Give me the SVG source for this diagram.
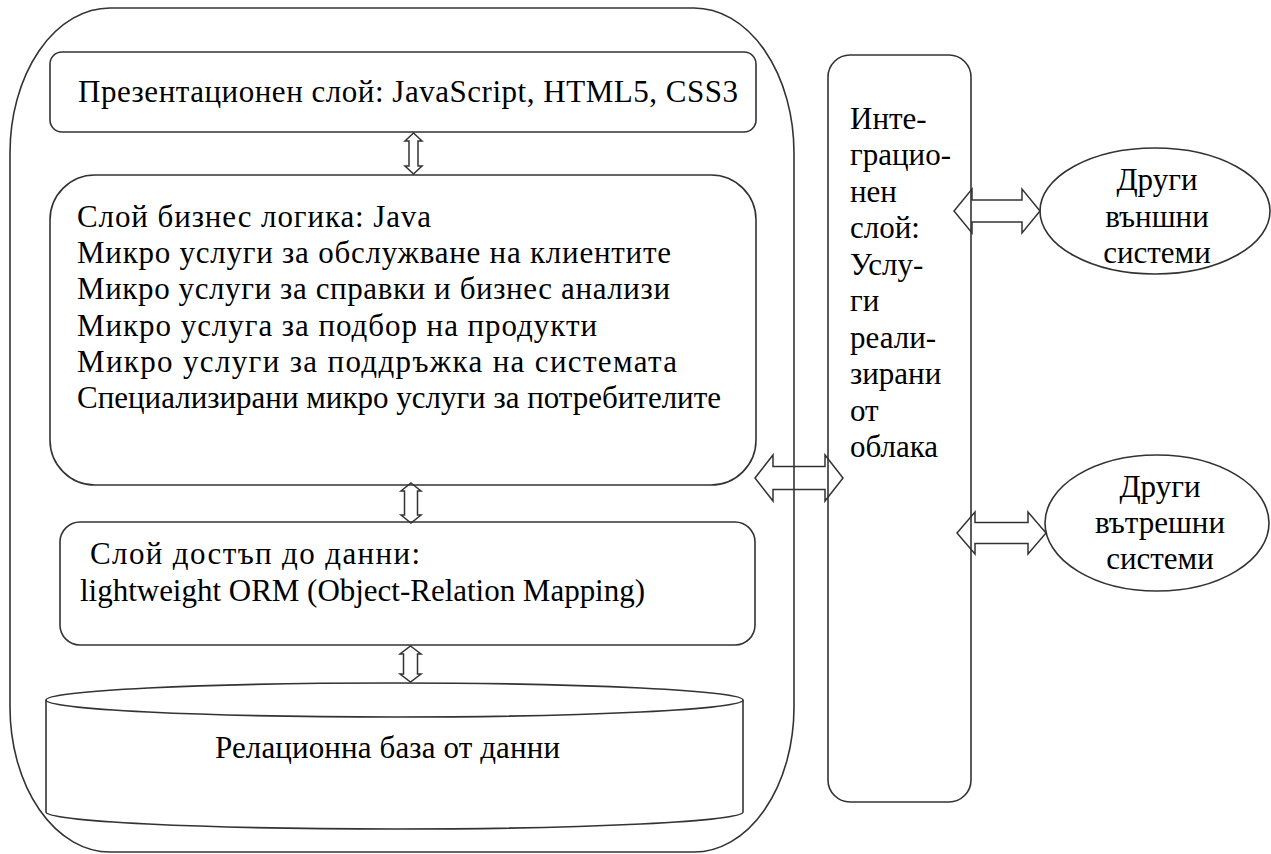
<svg xmlns="http://www.w3.org/2000/svg" width="1271" height="854" viewBox="0 0 1271 854">
  <style>
    .box { fill: none; stroke: #333; stroke-width: 1.6; }
    .arrow { fill: none; stroke: #333; stroke-width: 1.5; stroke-linejoin: miter; }
    .t { font-family: 'Liberation Serif', 'Times New Roman', serif; font-size: 31px; fill: #000; }
    .mid { text-anchor: middle; }
  </style>
  <rect width="1271" height="854" fill="#fff"/>

  <!-- application container -->
  <g id="app-container">
    <rect class="box" x="10" y="8" width="784" height="844" rx="100" ry="145"/>
  </g>

  <g id="presentation-layer">
    <rect class="box" x="50" y="52" width="706" height="80" rx="12"/>
    <text class="t" x="78" y="102" textLength="660" lengthAdjust="spacing">Презентационен слой: JavaScript, HTML5, CSS3</text>
  </g>

  <g id="business-layer">
    <rect class="box" x="50" y="175" width="706" height="310" rx="45"/>
    <text class="t" x="77" y="227" textLength="354" lengthAdjust="spacing">Слой бизнес логика: Java</text>
    <text class="t" x="77" y="263" textLength="594" lengthAdjust="spacing">Микро услуги за обслужване на клиентите</text>
    <text class="t" x="77" y="299" textLength="593" lengthAdjust="spacing">Микро услуги за справки и бизнес анализи</text>
    <text class="t" x="77" y="336" textLength="520" lengthAdjust="spacing">Микро услуга за подбор на продукти</text>
    <text class="t" x="77" y="372" textLength="600" lengthAdjust="spacing">Микро услуги за поддръжка на системата</text>
    <text class="t" x="77" y="408" textLength="644" lengthAdjust="spacing">Специализирани микро услуги за потребителите</text>
  </g>

  <g id="data-access-layer">
    <rect class="box" x="60" y="522" width="695" height="123" rx="20"/>
    <text class="t" x="90" y="564" textLength="330" lengthAdjust="spacing">Слой достъп до данни:</text>
    <text class="t" x="80" y="601" textLength="565" lengthAdjust="spacing">lightweight ORM (Object-Relation  Mapping)</text>
  </g>

  <g id="database">
    <path class="box" d="M46,700 L46,812 A348.5,17 0 0 0 743,812 L743,700"/>
    <ellipse class="box" cx="394.5" cy="700" rx="348.5" ry="17"/>
    <text class="t" x="215" y="758" textLength="345" lengthAdjust="spacing">Релационна база от данни</text>
  </g>

  <g id="integration-layer">
    <rect class="box" x="828" y="55" width="143" height="747" rx="22"/>
    <text class="t" x="850" y="129">Инте-</text>
    <text class="t" x="850" y="165">грацио-</text>
    <text class="t" x="850" y="202">нен</text>
    <text class="t" x="850" y="238">слой:</text>
    <text class="t" x="850" y="275">Услу-</text>
    <text class="t" x="850" y="311">ги</text>
    <text class="t" x="850" y="348">реали-</text>
    <text class="t" x="850" y="384">зирани</text>
    <text class="t" x="850" y="421">от</text>
    <text class="t" x="850" y="457">облака</text>
  </g>

  <g id="external-systems">
    <ellipse class="box" cx="1155" cy="211" rx="115" ry="63"/>
    <text class="t mid" x="1157" y="190">Други</text>
    <text class="t mid" x="1157" y="227">външни</text>
    <text class="t mid" x="1157" y="263">системи</text>
  </g>

  <g id="internal-systems">
    <ellipse class="box" cx="1157" cy="523" rx="112" ry="68"/>
    <text class="t mid" x="1160" y="497">Други</text>
    <text class="t mid" x="1160" y="533">вътрешни</text>
    <text class="t mid" x="1160" y="569">системи</text>
  </g>

  <!-- double-headed block arrows between the layers -->
  <g id="connectors">
    <path class="arrow" d="M413.5,133 L422,141 L418,141 L418,166 L422,166 L413.5,174 L405,166 L409,166 L409,141 L405,141 Z"/>
    <path class="arrow" d="M411,483 L421,491 L417.5,491 L417.5,515 L421,515 L411,523 L401,515 L404.5,515 L404.5,491 L401,491 Z"/>
    <path class="arrow" d="M410.5,646 L421,654 L417.5,654 L417.5,674 L421,674 L410.5,682 L400,674 L403.5,674 L403.5,654 L400,654 Z"/>
    <path class="arrow" d="M755,478 L773,455 L773,466.5 L825,466.5 L825,455 L843,478 L825,501 L825,489.5 L773,489.5 L773,501 Z"/>
    <path class="arrow" d="M954,211 L972,189 L972,200 L1022,200 L1022,189 L1040,211 L1022,233 L1022,222 L972,222 L972,233 Z"/>
    <path class="arrow" d="M957,533 L975,512 L975,522.5 L1028,522.5 L1028,512 L1046,533 L1028,554 L1028,543.5 L975,543.5 L975,554 Z"/>
  </g>
</svg>
